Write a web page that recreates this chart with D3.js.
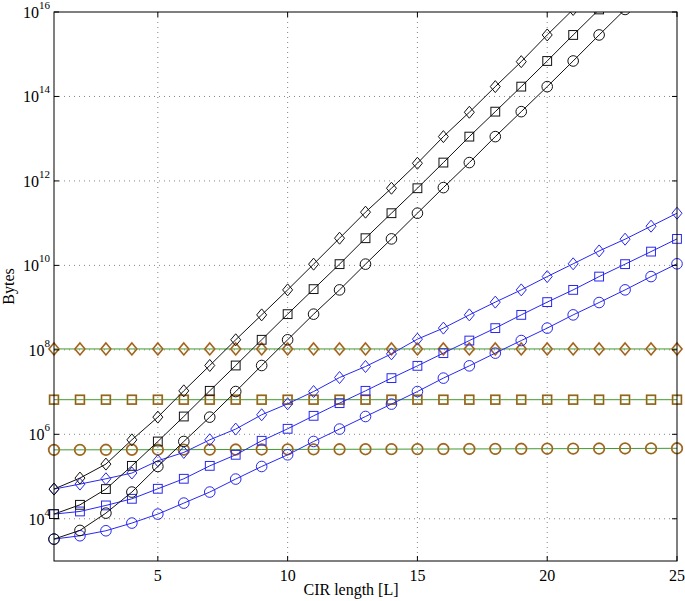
<!DOCTYPE html>
<html><head><meta charset="utf-8">
<script src="https://cdn.jsdelivr.net/npm/d3@7"></script>
<style>body{margin:0;background:#fff}svg{display:block}text{font-family:"Liberation Serif","DejaVu Serif","Times New Roman",serif}</style>
</head><body>
<svg id="chart" width="685" height="601"></svg>
<script>
// CIR length L
const cirLength = d3.range(1, 26);
const xTicks = [5, 10, 15, 20, 25];
const yTicks = [1e4, 1e6, 1e8, 1e10, 1e12, 1e14, 1e16];

// Black (fast-growing) series
const blackDiamond = [5.05e4, 9.2e4, 1.97e5, 7.4e5, 2.55e6, 1.07e7, 4.26e7, 1.73e8, 6.73e8, 2.63e9, 1.07e10, 4.40e10, 1.82e11, 6.71e11, 2.62e12, 1.12e13, 4.23e13, 1.71e14, 6.67e14, 2.86e15, 1.15e16];
const blackSquare = [1.29e4, 2.14e4, 5.05e4, 1.79e5, 6.76e5, 2.64e6, 1.07e7, 4.26e7, 1.73e8, 7.0e8, 2.74e9, 1.07e10, 4.40e10, 1.72e11, 6.71e11, 2.72e12, 1.12e13, 4.37e13, 1.71e14, 6.92e14, 2.86e15, 1.15e16];
const blackCircle = [3.30e3, 5.30e3, 1.36e4, 4.29e4, 1.73e5, 6.76e5, 2.55e6, 1.03e7, 4.26e7, 1.73e8, 7.0e8, 2.63e9, 1.07e10, 4.24e10, 1.72e11, 6.95e11, 2.72e12, 1.12e13, 4.37e13, 1.71e14, 6.92e14, 2.86e15, 1.15e16];

// Blue series
const blueDiamond = [5.05e4, 6.62e4, 8.85e4, 1.21e5, 2.36e5, 3.72e5, 7.41e5, 1.33e6, 2.90e6, 5.27e6, 1.03e7, 2.21e7, 4.03e7, 8.04e7, 1.79e8, 3.27e8, 6.73e8, 1.35e9, 2.63e9, 5.43e9, 1.09e10, 2.20e10, 4.17e10, 8.47e10, 1.72e11];
const blueSquare = [1.29e4, 1.49e4, 2.07e4, 2.97e4, 5.13e4, 8.85e4, 1.79e5, 3.27e5, 7.02e5, 1.35e6, 2.74e6, 5.47e6, 1.07e7, 2.14e7, 4.18e7, 8.36e7, 1.66e8, 3.27e8, 6.73e8, 1.35e9, 2.63e9, 5.43e9, 1.07e10, 2.12e10, 4.24e10];
const blueCircle = [3.30e3, 3.96e3, 5.20e3, 7.91e3, 1.29e4, 2.35e4, 4.29e4, 8.71e4, 1.73e5, 3.27e5, 6.76e5, 1.33e6, 2.64e6, 5.19e6, 1.03e7, 2.14e7, 4.18e7, 8.36e7, 1.66e8, 3.27e8, 6.73e8, 1.32e9, 2.63e9, 5.43e9, 1.09e10];

// Flat series (green line with red markers)
const flatDiamond = [1.05e8, 1.05e8, 1.05e8, 1.05e8, 1.05e8, 1.05e8, 1.05e8, 1.05e8, 1.05e8, 1.05e8, 1.05e8, 1.05e8, 1.05e8, 1.05e8, 1.05e8, 1.05e8, 1.05e8, 1.05e8, 1.05e8, 1.05e8, 1.05e8, 1.05e8, 1.05e8, 1.05e8, 1.05e8];
const flatSquare = [6.6e6, 6.6e6, 6.6e6, 6.6e6, 6.6e6, 6.6e6, 6.6e6, 6.6e6, 6.6e6, 6.6e6, 6.6e6, 6.6e6, 6.6e6, 6.6e6, 6.6e6, 6.6e6, 6.6e6, 6.6e6, 6.6e6, 6.6e6, 6.6e6, 6.6e6, 6.6e6, 6.6e6, 6.6e6];
const flatCircle = [4.28e5, 4.29e5, 4.30e5, 4.31e5, 4.32e5, 4.33e5, 4.35e5, 4.36e5, 4.37e5, 4.39e5, 4.40e5, 4.42e5, 4.43e5, 4.45e5, 4.47e5, 4.48e5, 4.50e5, 4.52e5, 4.54e5, 4.56e5, 4.58e5, 4.60e5, 4.62e5, 4.64e5, 4.66e5];

const series = [
  {vals: flatDiamond, shape: "diamond", kind: "flat"},
  {vals: flatSquare, shape: "square", kind: "flat"},
  {vals: flatCircle, shape: "circle", kind: "flat"},
  {vals: blueDiamond, shape: "diamond", kind: "blue"},
  {vals: blueSquare, shape: "square", kind: "blue"},
  {vals: blueCircle, shape: "circle", kind: "blue"},
  {vals: blackDiamond, shape: "diamond", kind: "black"},
  {vals: blackSquare, shape: "square", kind: "black"},
  {vals: blackCircle, shape: "circle", kind: "black"}
];

const W = 685, H = 601;
const m = {left: 54, top: 12, right: 8, bottom: 40};
const iw = W - m.left - m.right, ih = H - m.top - m.bottom;
const svg = d3.select("#chart");
const g = svg.append("g").attr("transform", `translate(${m.left},${m.top})`);

const x = d3.scaleLinear().domain([1, 25]).range([0, iw]);
const y = d3.scaleLog().domain([1e3, 1e16]).range([ih, 0]);

// grid
const gridG = g.append("g");
xTicks.filter(t => t < 25).forEach(t => {
  gridG.append("line").attr("x1", x(t)).attr("x2", x(t)).attr("y1", 0).attr("y2", ih)
    .attr("stroke", "#666").attr("stroke-width", 0.8).attr("stroke-dasharray", "1,4");
});
yTicks.filter(t => t < 1e16).forEach(t => {
  gridG.append("line").attr("x1", 0).attr("x2", iw).attr("y1", y(t)).attr("y2", y(t))
    .attr("stroke", "#666").attr("stroke-width", 0.8).attr("stroke-dasharray", "1,4");
});

// clip
svg.append("defs").append("clipPath").attr("id", "clip")
  .append("rect").attr("x", -8).attr("y", 0).attr("width", iw + 16).attr("height", ih);
const plot = g.append("g").attr("clip-path", "url(#clip)");

const line = d3.line().x((d, i) => x(cirLength[i])).y(d => y(d));

function marker(sel, shape, stroke, sw) {
  if (shape === "circle") {
    sel.append("circle").attr("r", 5.3).attr("fill", "none").attr("stroke", stroke).attr("stroke-width", sw);
  } else if (shape === "square") {
    const h = 4.4;
    sel.append("rect").attr("x", -h).attr("y", -h).attr("width", 2 * h).attr("height", 2 * h)
      .attr("fill", "none").attr("stroke", stroke).attr("stroke-width", sw);
  } else {
    const a = 6, b = 5;
    sel.append("path").attr("d", `M0,${-a}L${b},0L0,${a}L${-b},0Z`)
      .attr("fill", "none").attr("stroke", stroke).attr("stroke-width", sw);
  }
}

series.forEach(s => {
  const color = s.kind === "black" ? "#111" : s.kind === "blue" ? "#2828f0" : "#3f9a2e";
  plot.append("path").datum(s.vals).attr("d", line)
    .attr("fill", "none").attr("stroke", color).attr("stroke-width", 1);
  s.vals.forEach((v, i) => {
    const mg = plot.append("g").attr("transform", `translate(${x(cirLength[i])},${y(v)})`);
    if (s.kind === "flat") {
      marker(mg, s.shape, "#e8683a", 1.8);
      marker(mg, s.shape, "#4f7a1c", 0.9);
    } else {
      marker(mg, s.shape, color, 1);
    }
  });
});

// box
g.append("rect").attr("x", 0).attr("y", 0).attr("width", iw).attr("height", ih)
  .attr("fill", "none").attr("stroke", "#000").attr("stroke-width", 1);

// ticks (inward, both sides)
const tl = 5;
xTicks.forEach(t => {
  g.append("line").attr("x1", x(t)).attr("x2", x(t)).attr("y1", ih).attr("y2", ih - tl).attr("stroke", "#000");
  g.append("line").attr("x1", x(t)).attr("x2", x(t)).attr("y1", 0).attr("y2", tl).attr("stroke", "#000");
  g.append("text").attr("x", x(t)).attr("y", ih + 20).attr("text-anchor", "middle")
    .attr("font-size", 16).text(t);
});
yTicks.forEach(t => {
  g.append("line").attr("x1", 0).attr("x2", tl).attr("y1", y(t)).attr("y2", y(t)).attr("stroke", "#000");
  g.append("line").attr("x1", iw).attr("x2", iw - tl).attr("y1", y(t)).attr("y2", y(t)).attr("stroke", "#000");
  const exp = Math.round(Math.log10(t));
  const tx = g.append("text").attr("x", -4).attr("y", y(t) + 6).attr("text-anchor", "end")
    .attr("font-size", 16);
  tx.append("tspan").text("10");
  tx.append("tspan").attr("dy", -9).attr("font-size", 11).text(exp);
});

// axis labels
svg.append("text").attr("x", 351).attr("y", 595).attr("text-anchor", "middle")
  .attr("font-size", 16).text("CIR length [L]");
svg.append("text").attr("transform", `translate(14,${m.top + ih / 2}) rotate(-90)`)
  .attr("text-anchor", "middle").attr("font-size", 16).text("Bytes");
</script>
</body></html>
